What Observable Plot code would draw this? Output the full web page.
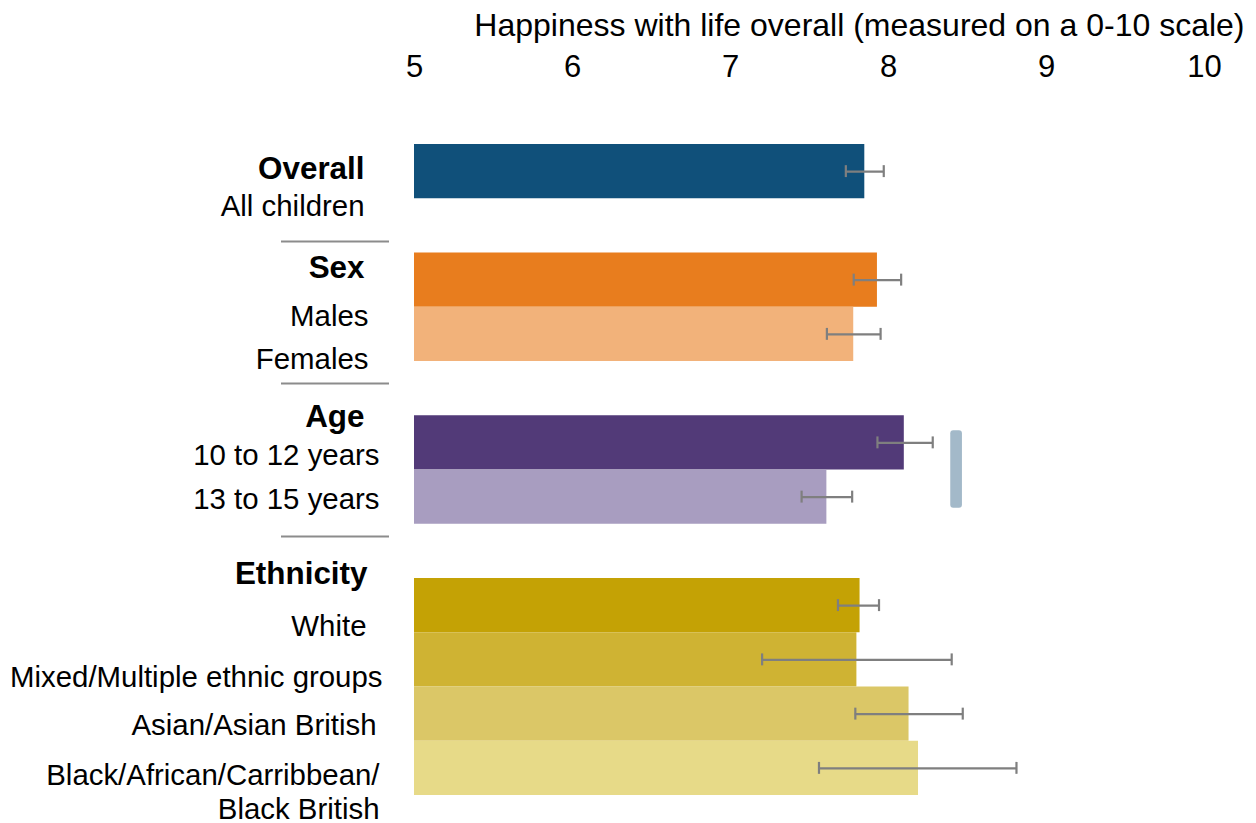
<!DOCTYPE html>
<html>
<head>
<meta charset="utf-8">
<script src="https://cdn.jsdelivr.net/npm/d3@7"></script>
<script src="https://cdn.jsdelivr.net/npm/@observablehq/plot@0.6"></script>
<style>
  html, body { margin: 0; padding: 0; background: #fff; }
  svg { display: block; }
</style>
</head>
<body>
<div id="chart"></div>
<script>
// ---- Data ----
const title = "Happiness with life overall (measured on a 0-10 scale)";
const xTicks = [5, 6, 7, 8, 9, 10];
const groups = ["Overall", "Sex", "Age", "Ethnicity"];
const categories = ["All children", "Males", "Females", "10 to 12 years", "13 to 15 years",
  "White", "Mixed/Multiple ethnic groups", "Asian/Asian British", "Black/African/Carribbean/\nBlack British"];
const categoryGroup = ["Overall", "Sex", "Sex", "Age", "Age", "Ethnicity", "Ethnicity", "Ethnicity", "Ethnicity"];
const values = [7.85, 7.93, 7.78, 8.10, 7.61, 7.82, 7.80, 8.13, 8.19];
const ciLow  = [7.73, 7.78, 7.61, 7.93, 7.45, 7.68, 7.20, 7.79, 7.56];
const ciHigh = [7.97, 8.08, 7.95, 8.28, 7.77, 7.94, 8.40, 8.47, 8.81];
// significant difference marker (Age group)
const sigGroup = "Age";
const sigValue = 8.43;

// ---- Styles / layout ----
const colors = ["#10507a", "#e87d1e", "#f2b27a", "#523a78", "#a89dc0", "#c4a205", "#cfb333", "#dbc767", "#e7da88"];
const font = "'Liberation Sans', Arial, Helvetica, sans-serif";

// rows: one per category, one blank row between groups
const rows = [];
let r = 0;
categories.forEach((c, i) => {
  if (i > 0 && categoryGroup[i] !== categoryGroup[i - 1]) r += 1;
  rows.push(r);
  r += 1;
});
const nRows = r;
const data = categories.map((c, i) => ({
  category: c, group: categoryGroup[i], value: values[i], lo: ciLow[i], hi: ciHigh[i],
  row: rows[i], color: colors[i]
}));

// label layout (baseline in row units, horizontal pixel offset from the frame)
const headerLayout = { Overall: [0.632, -50], Sex: [2.465, -50], Age: [5.211, -50], Ethnicity: [8.098, -47] };
const catLayout = [[1.327, -50], [3.349, -46], [4.147, -46], [5.904, -35], [6.710, -35],
  [9.069, -48], [9.991, -32], [10.894, -38], [12.424, -35]];
const separatorRows = [1.788, 4.406, 7.226];

const sigRows = data.filter(d => d.group === sigGroup);
const sigData = [{ x: sigValue, y1: d3.min(sigRows, d => d.row), y2: d3.max(sigRows, d => d.row) + 1 }];

const marks = [
  Plot.rect(data, { x1: xTicks[0], x2: "value", y1: "row", y2: d => d.row + 1, fill: "color" }),
  Plot.ruleY(data, { x1: "lo", x2: "hi", y: d => d.row + 0.5, stroke: "#7f7f7f", strokeWidth: 2.2 }),
  Plot.ruleX(data, { x: "lo", y1: d => d.row + 0.39, y2: d => d.row + 0.61, stroke: "#7f7f7f", strokeWidth: 2.2 }),
  Plot.ruleX(data, { x: "hi", y1: d => d.row + 0.39, y2: d => d.row + 0.61, stroke: "#7f7f7f", strokeWidth: 2.2 }),
  Plot.rect(sigData, { x1: d => d.x - 0.036, x2: d => d.x + 0.038, y1: "y1", y2: "y2", insetTop: 15, insetBottom: 16, rx: 3, fill: "#a3b9c9" }),
  Plot.ruleY(separatorRows, { y: d => d, insetLeft: -133, insetRight: 815, stroke: "#8c8c8c", strokeWidth: 2 }),
  Plot.axisX({ anchor: "top", ticks: xTicks, tickSize: 0, tickPadding: 68, fontSize: 31, label: null, tickFormat: d => String(d) }),
  Plot.text([title], { text: d => d, frameAnchor: "top-right", dx: 40, dy: -109, textAnchor: "end", lineAnchor: "bottom", fontSize: 32 }),
  ...groups.map(g => Plot.text([g], { text: d => d, y: () => headerLayout[g][0], frameAnchor: "left", dx: headerLayout[g][1],
    textAnchor: "end", lineAnchor: "bottom", fontSize: 31.4, fontWeight: "bold", fill: "#000" })),
  ...data.map((d, i) => Plot.text([d], { text: "category", y: () => catLayout[i][0], frameAnchor: "left", dx: catLayout[i][1],
    textAnchor: "end", lineAnchor: "bottom", lineHeight: 1.13, fontSize: 29.4, fill: "#000" }))
];

const chart = Plot.plot({
  width: 1256, height: 823,
  marginLeft: 414, marginRight: 52, marginTop: 144, marginBottom: 28,
  x: { domain: [xTicks[0], xTicks[xTicks.length - 1]], axis: null },
  y: { domain: [0, nRows], reverse: true, axis: null },
  style: { fontFamily: font, fontSize: "29px", color: "#000", background: "#fff", overflow: "visible" },
  marks
});
document.getElementById("chart").appendChild(chart);
</script>
</body>
</html>
